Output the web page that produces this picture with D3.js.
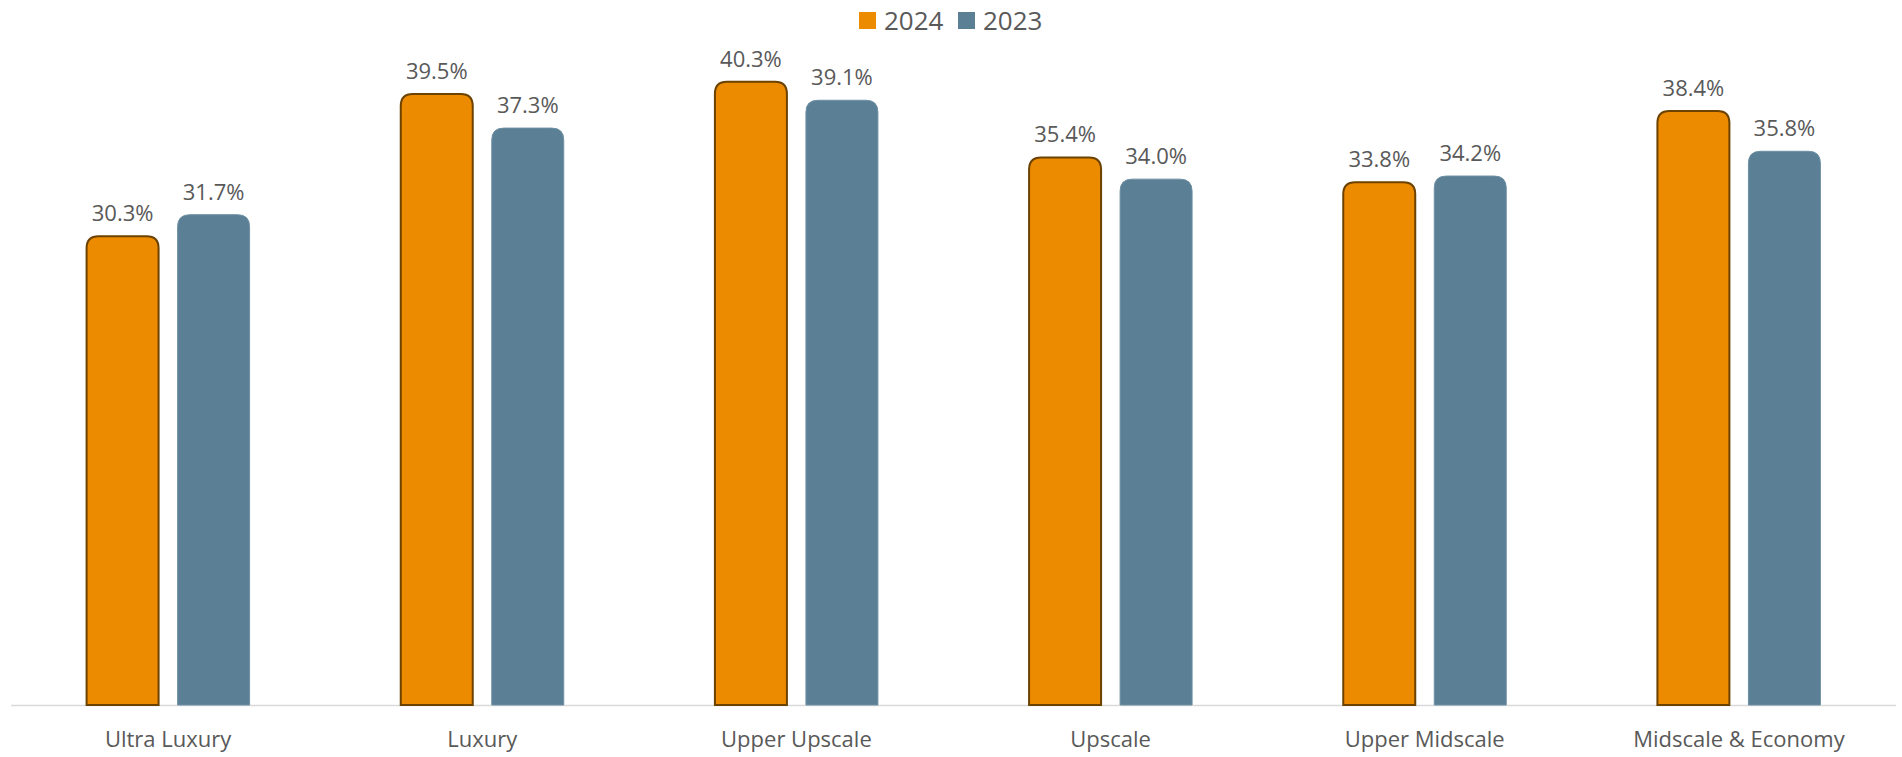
<!DOCTYPE html>
<html>
<head>
<meta charset="utf-8">
<script src="https://cdn.jsdelivr.net/npm/d3@7"></script>
<style>
  body { margin: 0; background: #fff; }
  text { font-family: "Open Sans", sans-serif; fill: #595959; }
</style>
</head>
<body>
<svg class="chart" width="1902" height="757"></svg>
<script>
const categories = ["Ultra Luxury", "Luxury", "Upper Upscale", "Upscale", "Upper Midscale", "Midscale & Economy"];
const seriesNames = ["2024", "2023"];
const values2024 = [30.3, 39.5, 40.3, 35.4, 33.8, 38.4];
const values2023 = [31.7, 37.3, 39.1, 34.0, 34.2, 35.8];

const colors = { "2024": "#ED8B00", "2023": "#5B7F95" };
const strokes = { "2024": "#6B4200", "2023": "#6E90A4" };

const margin = { top: 9, right: 6, bottom: 52, left: 11 };
const svg = d3.select(".chart");
const width = +svg.attr("width");
const height = +svg.attr("height");

const data = categories.map((c, i) => ({
  category: c,
  values: [
    { key: "2024", value: values2024[i] },
    { key: "2023", value: values2023[i] },
  ],
}));

const x0 = d3
  .scaleBand()
  .domain(categories)
  .range([margin.left, width - margin.right]);

const x1 = d3
  .scaleBand()
  .domain(seriesNames)
  .range([x0.bandwidth() / 2 - 81.5, x0.bandwidth() / 2 + 81.5])
  .paddingInner(0.209)
  .paddingOuter(0);

const y = d3
  .scaleLinear()
  .domain([0, 45])
  .range([height - margin.bottom, margin.top]);

// Rounded-top bar
function barPath(x, yTop, w, yBase, r) {
  return `M${x},${yBase}V${yTop + r}Q${x},${yTop} ${x + r},${yTop}H${x + w - r}Q${x + w},${yTop} ${x + w},${yTop + r}V${yBase}Z`;
}

// Axis line
svg
  .append("line")
  .attr("x1", margin.left)
  .attr("x2", width - margin.right)
  .attr("y1", y(0) + 0.5)
  .attr("y2", y(0) + 0.5)
  .attr("stroke", "#D9D9D9")
  .attr("stroke-width", 1.5);

const groups = svg
  .selectAll(".group")
  .data(data)
  .join("g")
  .attr("transform", (d) => `translate(${x0(d.category)},0)`);

groups
  .selectAll("path")
  .data((d) => d.values)
  .join("path")
  .attr("d", (d) => barPath(x1(d.key), y(d.value), x1.bandwidth(), y(0), 12))
  .attr("fill", (d) => colors[d.key])
  .attr("stroke", (d) => strokes[d.key])
  .attr("stroke-width", (d) => (d.key === "2024" ? 2 : 1));

groups
  .selectAll(".val")
  .data((d) => d.values)
  .join("text")
  .attr("class", "val")
  .attr("text-anchor", "middle")
  .attr("font-size", "22px")
  .attr("x", (d) => x1(d.key) + x1.bandwidth() / 2)
  .attr("y", (d) => y(d.value) - 15)
  .text((d) => d.value.toFixed(1) + "%");

// Category labels
svg
  .append("g")
  .selectAll("text")
  .data(categories)
  .join("text")
  .attr("text-anchor", "middle")
  .attr("font-size", "22px")
  .attr("x", (d) => x0(d) + x0.bandwidth() / 2)
  .attr("y", 747)
  .text((d) => d);

// Legend
const legend = svg.append("g");
const legendItems = [
  { key: "2024", x: 859 },
  { key: "2023", x: 958 },
];
legendItems.forEach((d) => {
  legend
    .append("rect")
    .attr("x", d.x)
    .attr("y", 12)
    .attr("width", 17)
    .attr("height", 17)
    .attr("fill", colors[d.key]);
  legend
    .append("text")
    .attr("x", d.x + 25)
    .attr("y", 30)
    .attr("font-size", "26px")
    .text(d.key);
});
</script>
</body>
</html>
